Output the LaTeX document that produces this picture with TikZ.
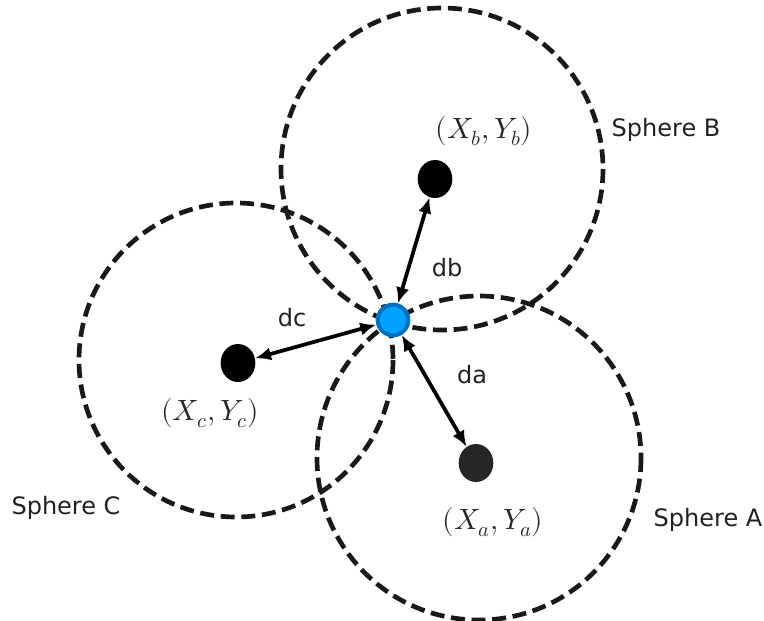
\documentclass[tikz,border=0pt]{standalone}
\usepackage{fontspec}
\usepackage{unicode-math}
\newfontfamily\labelfont{DejaVu Sans}
\usepackage{tikz}
\usetikzlibrary{positioning,arrows.meta,shapes.geometric}
\definecolor{tagblue}{RGB}{0,112,192}
\definecolor{tagfill}{RGB}{0,162,255}

\begin{document}
\begin{tikzpicture}[x=0.75pt,y=-0.75pt,
  sph/.style={draw=black!90,line width=3.5pt,dash pattern=on 10.5pt off 5pt},
  anchorpt/.style={ellipse,fill=black,minimum width=26pt,minimum height=28.5pt,inner sep=0pt},
  tag/.style={circle,draw=tagblue,fill=tagfill,line width=3pt,minimum size=23pt,inner sep=0pt},
  lbl/.style={font=\labelfont\fontsize{18}{20}\selectfont,text=black!87},
  coordlbl/.style={font=\fontsize{22}{24}\selectfont,text=black!85},
  arr/.style={{Latex[length=12pt,width=10pt]}-{Latex[length=12pt,width=10pt]},line width=2.8pt}]
\useasboundingbox (0,0) rectangle (764,621);
\coordinate (cB) at (442,169);
\coordinate (cA) at (479,458);
\coordinate (cC) at (236,360);
% the three spheres
\draw[sph] (cB) circle[radius=161];
\draw[sph] (cA) circle[radius=162];
\draw[sph] (cC) circle[radius=157];
\node[anchorpt] (pB) at (435,179) {};
\node[anchorpt] (pC) at (238,363) {};
\node[anchorpt,fill=black!85] (pA) at (476,463) {};
\node[tag] (rx) at (393,320) {};
\draw[arr] (rx) -- (pB);
\draw[arr] (rx) -- (pC);
\draw[arr] (rx) -- (pA);
\node[coordlbl] (lB) at (484,131) {$(X_b,Y_b)$};
\node[coordlbl] (lC) at (210,413) {$(X_c,Y_c)$};
\node[coordlbl] (lA) at (493,522) {$(X_a,Y_a)$};
\node[lbl] (sB) at (666,130) {Sphere B};
\node[lbl] (sC) at (66,508) {Sphere C};
\node[lbl] (sA) at (708,520) {Sphere A};
\node[lbl] (db) at (447,268) {db};
\node[lbl] (dc) at (292,318) {dc};
\node[lbl] (da) at (472,375) {da};
\end{tikzpicture}
\end{document}
